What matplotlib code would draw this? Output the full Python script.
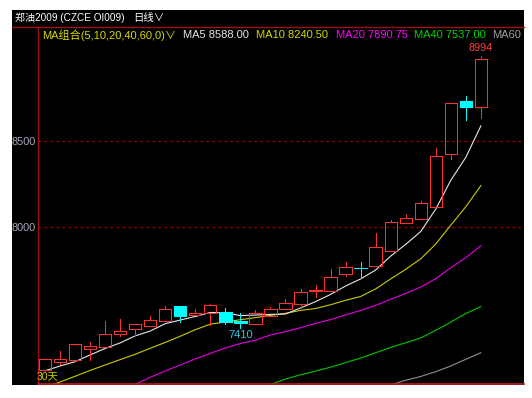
import numpy as np
import matplotlib
matplotlib.use("Agg")
import matplotlib.pyplot as plt
from matplotlib.lines import Line2D
from matplotlib.patches import Rectangle

plt.rcParams['font.family'] = ['Liberation Sans', 'Noto Sans CJK SC', 'DejaVu Sans']

W, H = 532, 398

# daily bars, oldest first
opens  = [7169, 7213, 7227, 7292, 7304, 7376, 7405, 7426, 7455, 7541,
          7490, 7502, 7508, 7455, 7434, 7483, 7523, 7551, 7629, 7630,
          7727, 7764, 7775, 7862, 8026, 8047, 8115, 8423, 8733, 8699]
closes = [7233, 7231, 7318, 7308, 7378, 7395, 7434, 7459, 7522, 7483,
          7502, 7547, 7449, 7444, 7498, 7522, 7556, 7624, 7631, 7708,
          7766, 7762, 7885, 8031, 8051, 8138, 8415, 8723, 8699, 8977]
highs  = [7233, 7279, 7318, 7333, 7453, 7465, 7436, 7483, 7541, 7541,
          7522, 7552, 7527, 7498, 7517, 7537, 7580, 7638, 7663, 7754,
          7795, 7798, 7967, 8041, 8076, 8151, 8461, 8723, 8762, 8994]
lows   = [7169, 7205, 7222, 7227, 7304, 7366, 7372, 7426, 7455, 7449,
          7490, 7430, 7434, 7410, 7434, 7483, 7523, 7529, 7595, 7630,
          7715, 7702, 7775, 7862, 8023, 8047, 8115, 8394, 8622, 8632]

nan = np.nan
ma5  = [7164, 7192, 7217, 7256, 7294, 7326, 7367, 7395, 7438, 7459,
        7480, 7503, 7501, 7485, 7488, 7492, 7494, 7529, 7566, 7608,
        7657, 7698, 7750, 7831, 7899, 7974, 8104, 8272, 8405, 8588]
ma10 = [7065, 7099, 7132, 7166, 7198, 7229, 7260, 7295, 7329, 7365,
        7403, 7435, 7448, 7461, 7473, 7486, 7498, 7515, 7526, 7548,
        7574, 7596, 7640, 7698, 7754, 7815, 7901, 8011, 8118, 8240.5]
ma20 = [nan] * 6 + [7085, 7126, 7163, 7198, 7233, 7265, 7297, 7323, 7342, 7372,
                    7392, 7414, 7440, 7462, 7489, 7515, 7544, 7580, 7614, 7651,
                    7700, 7763, 7822, 7890.75]
ma40 = [nan] * 15 + [7084, 7116, 7141, 7162, 7185, 7212, 7238, 7269, 7300, 7327,
                     7355, 7399, 7447, 7497, 7537]
ma60 = [nan] * 23 + [7082, 7109, 7131, 7159, 7192, 7231, 7269]

ma_labels = ['MA5 8588.00', 'MA10 8240.50', 'MA20 7890.75', 'MA40 7537.00', 'MA60']
ma_colors = ['#e6e6e6', '#cccc00', '#e600e6', '#00c800', '#909090']
ma_text_colors = ['#e6e6e6', '#d8d800', '#ff00ff', '#00d200', '#a0a0a0']
y_ticks = [8000, 8500]

up_col = '#ff3030'
down_col = '#00ffff'
frame_col = '#a01010'


def fx(x):
    return x / W


def fy(y):
    return 1 - y / H


fig = plt.figure(figsize=(W / 100, H / 100), dpi=100)
fig.patch.set_facecolor('white')
fig.add_artist(Rectangle((fx(12), fy(385)), (524 - 12) / W, (385 - 10) / H,
                         transform=fig.transFigure, facecolor='black',
                         edgecolor='none', zorder=-10))

ax = fig.add_axes([fx(38.3), fy(384), (524 - 38.3) / W, (384 - 27) / H])
ax.set_facecolor('black')

x = np.arange(len(closes))
o = np.array(opens, float)
c = np.array(closes, float)
hi = np.array(highs, float)
lo = np.array(lows, float)
up = c >= o
top = np.maximum(o, c)
bot = np.minimum(o, c)

for vals, col in zip([ma60, ma40, ma20, ma10, ma5], ma_colors[::-1]):
    ax.plot(x, vals, color=col, lw=0.8, zorder=2)

lw_c = 0.55
# up candles: hollow red, wick outside body only
ax.vlines(x[up], top[up], hi[up], color=up_col, lw=lw_c, zorder=3, antialiased=False)
ax.vlines(x[up], lo[up], bot[up], color=up_col, lw=lw_c, zorder=3, antialiased=False)
ax.bar(x[up], (top - bot)[up], bottom=bot[up], width=0.82,
       facecolor='none', edgecolor=up_col, lw=lw_c, zorder=3, antialiased=False)
# down candles: filled cyan
ax.vlines(x[~up], lo[~up], hi[~up], color=down_col, lw=lw_c, zorder=3, antialiased=False)
ax.bar(x[~up], (top - bot)[~up], bottom=bot[~up], width=0.82,
       facecolor=down_col, edgecolor=down_col, lw=lw_c, zorder=3, antialiased=False)

for t in y_ticks:
    ax.axhline(t, color='#a00000', lw=0.9, ls=(0, (2.2, 2.6)), zorder=1)

ax.set_xlim(-0.446, 31.87)
ax.set_ylim(7087.2, 9162.8)
ax.set_xticks([])
ax.set_yticks(y_ticks)
ax.set_yticklabels([str(t) for t in y_ticks])
ax.tick_params(axis='y', length=0, pad=1.8, labelsize=7.8, labelcolor='#a8a8bc')
for s in ['top', 'right']:
    ax.spines[s].set_visible(False)
ax.spines['left'].set_color(frame_col)
ax.spines['left'].set_linewidth(1.0)
ax.spines['bottom'].set_color('#c81e1e')
ax.spines['bottom'].set_linewidth(1.2)

# top separator under the title
fig.add_artist(Line2D([fx(12), fx(524)], [fy(26.5), fy(26.5)],
                      transform=fig.transFigure, color=frame_col, lw=1.0))

fig.text(fx(15), fy(18), '郑油2009 (CZCE OI009)', color='white',
         fontsize=7.2, ha='left', va='center')
fig.text(fx(133), fy(18), '日线∨', color='white',
         fontsize=7.5, ha='left', va='center')

# MA legend row
ax.text(fx(42), fy(35), 'MA组合(5,10,20,40,60,0)∨', color='#d8d800',
        fontsize=8, ha='left', va='center', transform=fig.transFigure, clip_on=True)
for label, col, px in zip(ma_labels, ma_text_colors, [183, 256, 336, 414, 492]):
    ax.text(fx(px), fy(35), label, color=col, fontsize=8,
            ha='left', va='center', transform=fig.transFigure, clip_on=True)

ax.annotate(f'{highs[-1]:.0f}', xy=(len(highs) - 1, highs[-1]), xytext=(0, 6),
            textcoords='offset points', ha='center', va='center',
            color='#ff4040', fontsize=7.8)
i_lo = 13
ax.annotate(f'{lows[i_lo]:.0f}', xy=(i_lo, lows[i_lo]), xytext=(0, -4.5),
            textcoords='offset points', ha='center', va='center',
            color='#30c8e8', fontsize=8)

fig.text(fx(37), fy(376), f'{len(closes)}天', color='#cccc00',
         fontsize=7.5, ha='left', va='center')

fig.savefig('out.png', dpi=100, facecolor='white')
